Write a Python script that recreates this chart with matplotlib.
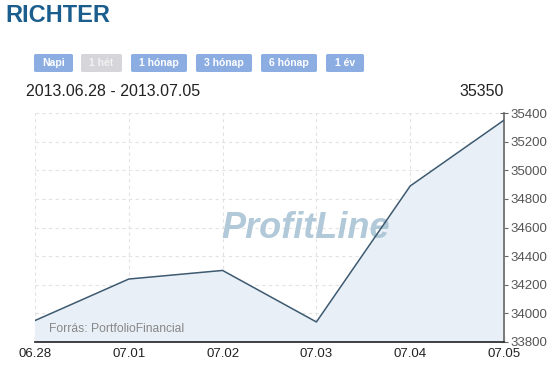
import matplotlib.pyplot as plt
from matplotlib.patches import FancyBboxPatch
from matplotlib.ticker import MultipleLocator

W, H = 551, 365

dates = ["06.28", "07.01", "07.02", "07.03", "07.04", "07.05"]
close = [33950, 34240, 34300, 33940, 34890, 35350]
buttons = ["Napi", "1 hét", "1 hónap", "3 hónap", "6 hónap", "1 év"]
active = [True, False, True, True, True, True]
yticks = [33800, 34000, 34200, 34400, 34600, 34800, 35000, 35200, 35400]

plt.rcParams['font.family'] = ['Liberation Sans', 'DejaVu Sans']

fig = plt.figure(figsize=(W / 100, H / 100), dpi=100)


def fx(px):
    return px / W


def fy(py):
    return 1 - py / H


# title
fig.text(fx(5), fy(16), "RICHTER", fontsize=17, fontweight="bold",
         color="#1b5e8e", va="center", ha="left")

# period buttons
btn_x = [34, 81, 131, 196, 261, 326]
btn_w = [39, 41, 56, 56, 56, 38]
for lbl, on, bx, bw in zip(buttons, active, btn_x, btn_w):
    box = FancyBboxPatch((fx(bx), fy(72)), fx(bw), 18 / H,
                         boxstyle="round,pad=0,rounding_size=0.004",
                         transform=fig.transFigure,
                         facecolor="#8cade2" if on else "#d6d6da",
                         edgecolor="none")
    fig.patches.append(box)
    fig.text(fx(bx + bw / 2), fy(63), lbl, fontsize=7.5, fontweight="bold",
             color="white" if on else "#f2f2f2", ha="center", va="center")

fig.text(fx(26), fy(92), "2013.06.28 - 2013.07.05", fontsize=11.5,
         color="#222222", ha="left", va="center")
fig.text(fx(504), fy(92), f"{close[-1]}", fontsize=11.5,
         color="#222222", ha="right", va="center")

ax = fig.add_axes([fx(35), fy(342), fx(504) - fx(35), (342 - 113) / H])
x = list(range(len(dates)))
ax.fill_between(x, close, 33800, color="#e8eff6", zorder=1)
ax.plot(x, close, color="#3e5a70", linewidth=1.1, zorder=3)

ax.set_xlim(0, len(dates) - 1)
ax.set_ylim(33800, 35400)
ax.set_xticks(x)
ax.set_xticklabels(dates)
ax.set_yticks(yticks)
ax.yaxis.set_minor_locator(MultipleLocator(100))
ax.yaxis.tick_right()

ax.grid(True, which="major", linestyle=(0, (3, 3)), color="#e2e2e2",
        linewidth=0.8, zorder=0)
ax.set_axisbelow(True)

for s in ["left", "top"]:
    ax.spines[s].set_visible(False)
ax.spines["bottom"].set_color("#222222")
ax.spines["right"].set_color("#666666")
ax.spines["bottom"].set_linewidth(1.2)
ax.spines["right"].set_linewidth(1.2)

ax.tick_params(axis="x", direction="in", length=4, color="#222222",
               labelsize=9.5, labelcolor="#222222", pad=4)
ax.tick_params(axis="y", which="major", direction="inout", length=6,
               color="#666666", labelsize=9.5, labelcolor="#555555", pad=2)
ax.tick_params(axis="y", which="minor", direction="in", length=3,
               color="#ff3333")

# watermark
ax.text(0.578, 0.495, "ProfitLine", transform=ax.transAxes, fontsize=26,
        fontweight="bold", fontstyle="italic", color="#a9c4d4", alpha=0.9,
        ha="center", va="center", zorder=2)

ax.text(0.03, 0.055, "Forrás: PortfolioFinancial", transform=ax.transAxes,
        fontsize=8.7, color="#888888", ha="left", va="center", zorder=4)

fig.savefig("out.png", dpi=100)
